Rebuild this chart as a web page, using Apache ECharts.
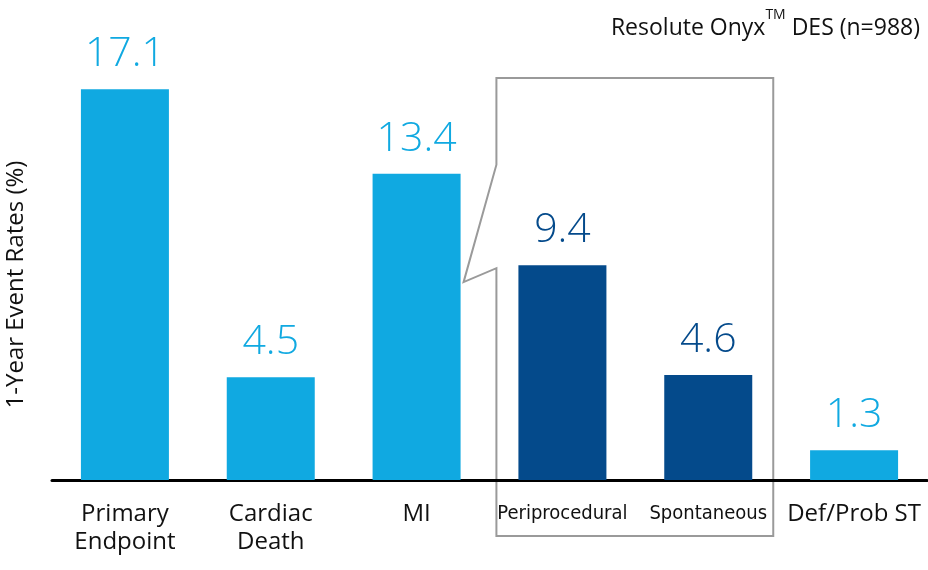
<!DOCTYPE html>
<html>
<head>
<meta charset="utf-8">
<script src="https://cdn.jsdelivr.net/npm/echarts@6/dist/echarts.min.js"></script>
<style>
html,body{margin:0;padding:0;background:#fff;}
#chart{width:928px;height:570px;}
</style>
</head>
<body>
<div id="chart"></div>
<script>
const categories = ['Primary\nEndpoint', 'Cardiac\nDeath', 'MI', 'Periprocedural', 'Spontaneous', 'Def/Prob ST'];
const values = [17.1, 4.5, 13.4, 9.4, 4.6, 1.3];
const groups = ['main', 'main', 'main', 'sub', 'sub', 'main'];
const yTitle = '1-Year Event Rates (%)';

const LIGHT = '#10a9e1';
const DARK = '#044a8b';
const chart = echarts.init(document.getElementById('chart'));

const data = values.map((v, i) => ({
  value: v,
  itemStyle: { color: groups[i] === 'sub' ? DARK : LIGHT },
  label: { color: groups[i] === 'sub' ? DARK : LIGHT }
}));

chart.setOption({
  animation: false,
  title: {
    text: '{a|Resolute Onyx}{s|TM}{a| DES (n=988)}',
    right: 3, top: 3,
    textStyle: {
      fontWeight: 'normal',
      rich: {
        a: { fontFamily: 'Open Sans', fontWeight: 'normal', fontSize: 23, color: '#111', verticalAlign: 'bottom', lineHeight: 32 },
        s: { fontFamily: 'Open Sans', fontWeight: 'normal', fontSize: 14, color: '#111', verticalAlign: 'top', lineHeight: 32, padding: [0, 0, 12, 0] }
      }
    }
  },
  grid: { left: 52, right: 1, top: 23, bottom: 90, containLabel: false, outerBoundsMode: 'none' },
  xAxis: {
    type: 'category',
    data: categories,
    axisLine: { lineStyle: { color: '#000', width: 3 } },
    axisTick: { show: false },
    axisLabel: {
      interval: 0,
      margin: 20,
      fontFamily: 'Open Sans',
      fontSize: 24,
      lineHeight: 28,
      color: '#111',
      formatter: function (v) {
        if (v === 'Periprocedural' || v === 'Spontaneous') return '{c|' + v + '}';
        return v;
      },
      rich: {
        c: { fontFamily: 'DejaVu Sans Condensed', fontSize: 20, color: '#111' }
      }
    }
  },
  yAxis: {
    type: 'value',
    min: 0, max: 20,
    show: true,
    name: yTitle,
    nameLocation: 'middle',
    nameGap: 24,
    nameTextStyle: { fontFamily: 'Open Sans', fontSize: 24, color: '#111', padding: [0, 66, 0, 0] },
    axisLine: { show: false },
    axisTick: { show: false },
    axisLabel: { show: false },
    splitLine: { show: false }
  },
  series: [{
    type: 'bar',
    data: data,
    barWidth: 88,
    label: {
      show: true,
      position: 'top',
      distance: 14,
      fontFamily: 'Open Sans',
      fontWeight: 300,
      fontSize: 41,
      formatter: function (p) { return p.value.toFixed(1); }
    }
  }]
});

// callout box around the MI breakdown, placed from axis pixels
const c3 = chart.convertToPixel({ xAxisIndex: 0 }, 3);
const c4 = chart.convertToPixel({ xAxisIndex: 0 }, 4);
const c2 = chart.convertToPixel({ xAxisIndex: 0 }, 2);
const x0 = c3 - 66, x1 = c4 + 65;
const yTop = 78, yBot = 536;
const tipX = c2 + 47;
const tipY = chart.convertToPixel({ yAxisIndex: 0 }, 8.66);
const y1 = chart.convertToPixel({ yAxisIndex: 0 }, 13.8);
const y2 = chart.convertToPixel({ yAxisIndex: 0 }, 9.27);
chart.setOption({
  graphic: [{
    type: 'polygon',
    silent: true,
    z: 0,
    shape: { points: [[x0, yTop], [x1, yTop], [x1, yBot], [x0, yBot], [x0, y2], [tipX, tipY], [x0, y1]] },
    style: { fill: 'none', stroke: '#9a9a9a', lineWidth: 2 }
  }]
});
</script>
</body>
</html>
